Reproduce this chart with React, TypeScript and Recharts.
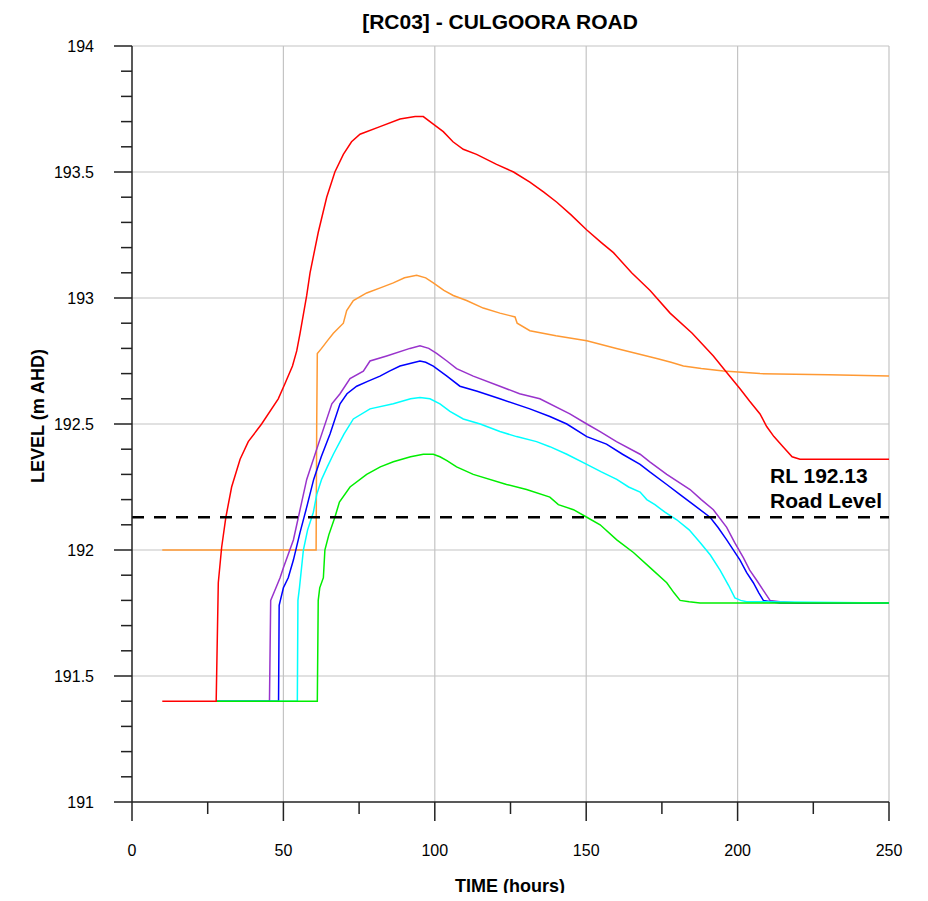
import React from 'react';
import { LineChart, Line, XAxis, YAxis, ReferenceLine, CartesianGrid } from 'recharts';

// ---- Layout constants ----
const W = 912;
const H = 885;
const MARGIN = { top: 38, right: 31, bottom: 31, left: 0 };
const X_AXIS_H = 60;
const Y_AXIS_W = 124;
const FONT = "Arial, 'Liberation Sans', Helvetica, sans-serif";

// ---- Ticks / labels ----
const X_TICKS = [0, 25, 50, 75, 100, 125, 150, 175, 200, 225, 250];
const X_MAJOR = [0, 50, 100, 150, 200, 250];
const Y_TICKS = [
  191, 191.1, 191.2, 191.3, 191.4, 191.5, 191.6, 191.7, 191.8, 191.9,
  192, 192.1, 192.2, 192.3, 192.4, 192.5, 192.6, 192.7, 192.8, 192.9,
  193, 193.1, 193.2, 193.3, 193.4, 193.5, 193.6, 193.7, 193.8, 193.9, 194,
];
const Y_MAJOR = [191, 191.5, 192, 192.5, 193, 193.5, 194];
const X_GRID = [50, 100, 150, 200, 250];
const Y_GRID = [191.5, 192, 192.5, 193, 193.5, 194];
const ROAD_LEVEL = 192.13;

const TITLE = '[RC03] - CULGOORA ROAD';
const X_TITLE = 'TIME (hours)';
const Y_TITLE = 'LEVEL (m AHD)';
const ROAD_TEXT_1 = 'RL 192.13';
const ROAD_TEXT_2 = 'Road Level';

// ---- Series data: [time (hours), level (m AHD)] ----
const RED: [number, number][] = [
  [10, 191.4], [27.8, 191.4], [28.5, 191.87], [29.6, 192.01], [31, 192.13], [32.9, 192.25],
  [35.7, 192.36], [38.4, 192.43], [42.8, 192.5], [48.3, 192.6], [50.5, 192.66], [53, 192.73],
  [54.4, 192.79], [55.5, 192.86], [57.7, 193.01], [58.8, 193.1], [61.5, 193.26], [64.3, 193.4],
  [67, 193.5], [69.8, 193.57], [72.5, 193.62], [75.3, 193.65], [81.9, 193.68], [88.5, 193.71],
  [93.5, 193.72], [96.2, 193.72], [99.5, 193.69], [102.8, 193.66], [106, 193.62], [109.4, 193.59],
  [113.8, 193.57], [120.4, 193.53], [126, 193.5], [131.4, 193.46], [136, 193.42], [140.3, 193.38],
  [145, 193.33], [150.2, 193.27], [155, 193.22], [159, 193.18], [165, 193.1], [171.1, 193.03],
  [177.7, 192.94], [185, 192.86], [192, 192.77], [196, 192.71], [200.8, 192.64], [204, 192.59],
  [207.4, 192.54], [209.6, 192.49], [212, 192.45], [215, 192.41], [218, 192.37], [220.6, 192.36],
  [250, 192.36],
];

const ORANGE: [number, number][] = [
  [10, 192.0], [60.8, 192.0], [61.0, 192.5], [61.2, 192.78], [62.6, 192.8], [64.5, 192.83],
  [66.5, 192.86], [69.8, 192.9], [70.9, 192.95], [73.1, 192.99], [77.5, 193.02], [82, 193.04],
  [86.3, 193.06], [90, 193.08], [94, 193.09], [97, 193.08], [99.5, 193.06], [103, 193.03],
  [106.1, 193.01], [110.5, 192.99], [116, 192.96], [121.5, 192.94], [124.8, 192.93],
  [126.5, 192.925], [127.2, 192.9], [131.4, 192.87], [140, 192.85], [150.2, 192.83], [160, 192.8],
  [173.3, 192.76], [178, 192.745], [182.1, 192.73], [188, 192.72], [195.3, 192.71],
  [207.4, 192.7], [230, 192.695], [250, 192.69],
];

const PURPLE: [number, number][] = [
  [27.8, 191.4], [45.4, 191.4], [45.8, 191.8], [47.2, 191.84], [48.9, 191.89], [50, 191.93],
  [53.3, 192.04], [55.5, 192.16], [57.7, 192.28], [62.1, 192.44], [66, 192.58], [68.7, 192.62],
  [72, 192.68], [76.4, 192.71], [78.6, 192.75], [84.1, 192.77], [91.8, 192.8], [95.1, 192.81],
  [98, 192.8], [100.6, 192.78], [104, 192.75], [107.2, 192.72], [112.7, 192.69], [121.5, 192.65],
  [128, 192.62], [134.7, 192.6], [144.6, 192.54], [150.2, 192.5], [154.6, 192.47], [160, 192.43],
  [167.8, 192.38], [171, 192.35], [176.6, 192.3], [184.3, 192.24], [188, 192.2], [192, 192.16],
  [196.4, 192.09], [199, 192.03], [201.9, 191.97], [204, 191.92], [206.3, 191.88], [208.5, 191.84],
  [210.7, 191.8], [214, 191.795], [220, 191.79], [250, 191.79],
];

const BLUE: [number, number][] = [
  [27.8, 191.4], [48.4, 191.4], [48.6, 191.78], [50, 191.85], [51.6, 191.89], [53.3, 191.96],
  [55.5, 192.07], [57.7, 192.17], [60, 192.28], [62.5, 192.37], [65.4, 192.46], [68.7, 192.58],
  [71, 192.62], [74.2, 192.65], [78, 192.67], [81.9, 192.69], [85, 192.71], [88.5, 192.73],
  [95.1, 192.75], [97, 192.745], [99.5, 192.73], [104, 192.69], [108.3, 192.65], [114, 192.63],
  [121.5, 192.6], [131.4, 192.56], [138, 192.53], [143.6, 192.5], [150.2, 192.45], [156.7, 192.42],
  [162, 192.38], [167.8, 192.34], [171, 192.31], [176.6, 192.26], [181, 192.22], [185.4, 192.18],
  [190.9, 192.13], [193.5, 192.09], [196.4, 192.04], [200.8, 191.96], [203, 191.91], [205.2, 191.87],
  [207, 191.83], [208.5, 191.8], [211, 191.795], [214, 191.79], [250, 191.79],
];

const CYAN: [number, number][] = [
  [27.8, 191.4], [54.6, 191.4], [54.8, 191.8], [55.3, 191.85], [56.6, 192], [58, 192.08],
  [59.9, 192.15], [61, 192.22], [62.6, 192.28], [64.5, 192.33], [66.5, 192.38], [70, 192.46],
  [73.1, 192.52], [78.6, 192.56], [86.3, 192.58], [92, 192.6], [95.1, 192.605], [98.4, 192.6],
  [101.7, 192.58], [105, 192.55], [109.4, 192.52], [115, 192.5], [121.5, 192.47], [127, 192.45],
  [133.6, 192.43], [138, 192.41], [143.6, 192.38], [150.2, 192.34], [155, 192.31], [160.1, 192.28],
  [164, 192.25], [167.8, 192.23], [170, 192.2], [172.7, 192.18], [176, 192.15], [179.9, 192.12],
  [184, 192.08], [187.6, 192.03], [191, 191.98], [194.2, 191.92], [197, 191.86], [199.1, 191.81],
  [201, 191.8], [203, 191.795], [250, 191.79],
];

const GREEN: [number, number][] = [
  [27.8, 191.4], [61.2, 191.4], [61.5, 191.8], [62, 191.85], [63.2, 191.89], [63.7, 192],
  [65, 192.06], [67, 192.13], [68.5, 192.19], [72, 192.25], [77.5, 192.3], [82, 192.33],
  [86.3, 192.35], [92, 192.37], [96.2, 192.38], [99.5, 192.38], [101.7, 192.37], [104, 192.355],
  [107.2, 192.33], [112.7, 192.3], [123.7, 192.26], [130.3, 192.24], [138, 192.21], [140.8, 192.18],
  [145.8, 192.16], [150.2, 192.13], [154.6, 192.1], [160.1, 192.04], [165.6, 191.99], [171.1, 191.93],
  [176.6, 191.87], [179, 191.83], [181, 191.8], [184, 191.795], [187.6, 191.79], [250, 191.79],
];

const SERIES = [
  { name: 'orange', color: '#ff9933', pts: ORANGE },
  { name: 'purple', color: '#9933cc', pts: PURPLE },
  { name: 'blue', color: '#0000ff', pts: BLUE },
  { name: 'cyan', color: '#00ffff', pts: CYAN },
  { name: 'green', color: '#00ee00', pts: GREEN },
  { name: 'red', color: '#ff0000', pts: RED },
];

const toRows = (pts: [number, number][]) => pts.map(([t, v]) => ({ t, v }));
const isIn = (arr: number[], v: number) => arr.some((m) => Math.abs(m - v) < 1e-6);

function YTick(props: any) {
  const { x, y, payload } = props;
  const v = payload.value as number;
  const major = isIn(Y_MAJOR, v);
  return (
    <g>
      <line x1={x - (major ? 18 : 11)} x2={x} y1={y} y2={y} stroke="#222" strokeWidth={1.5} />
      {major && (
        <text x={x - 38} y={y} dy="0.36em" textAnchor="end" fontSize={16} fill="#000" fontFamily={FONT}>
          {String(v)}
        </text>
      )}
    </g>
  );
}

function XTick(props: any) {
  const { x, y, payload } = props;
  const v = payload.value as number;
  const major = isIn(X_MAJOR, v);
  return (
    <g>
      <line x1={x} x2={x} y1={y} y2={y + (major ? 19 : 12)} stroke="#222" strokeWidth={1.5} />
      {major && (
        <text x={x} y={y + 54} textAnchor="middle" fontSize={16} fill="#000" fontFamily={FONT}>
          {String(v)}
        </text>
      )}
    </g>
  );
}

function RoadLabel(props: any) {
  const vb = props.viewBox || {};
  const x = (vb.x ?? 0) + (vb.width ?? 0) - 119;
  const y = vb.y ?? 0;
  return (
    <g>
      <text x={x} y={y - 34} fontSize={21} fontWeight="bold" fill="#000" fontFamily={FONT}>
        {ROAD_TEXT_1}
      </text>
      <text x={x} y={y - 9} fontSize={21} fontWeight="bold" fill="#000" fontFamily={FONT}>
        {ROAD_TEXT_2}
      </text>
    </g>
  );
}

export default function App() {
  return (
    <div style={{ position: 'relative', width: W, height: H, fontFamily: FONT }}>
      <LineChart width={W} height={H} margin={MARGIN}>
        <CartesianGrid
          stroke="#c4c4c4"
          strokeWidth={1.2}
          horizontalValues={Y_GRID}
          verticalValues={X_GRID}
        />
        <XAxis
          type="number"
          dataKey="t"
          domain={[0, 250]}
          ticks={X_TICKS}
          interval={0}
          height={X_AXIS_H}
          tickSize={0}
          tickMargin={0}
          tickLine={false}
          axisLine={{ stroke: '#222', strokeWidth: 1.5 }}
          tick={<XTick />}
          allowDataOverflow
        />
        <YAxis
          type="number"
          dataKey="v"
          domain={[191, 194]}
          ticks={Y_TICKS}
          interval={0}
          width={Y_AXIS_W}
          tickSize={0}
          tickMargin={0}
          tickLine={false}
          axisLine={{ stroke: '#222', strokeWidth: 1.5 }}
          tick={<YTick />}
          allowDataOverflow
        />
        {SERIES.map((s) => (
          <Line
            key={s.name}
            data={toRows(s.pts)}
            dataKey="v"
            type="linear"
            stroke={s.color}
            strokeWidth={1.5}
            dot={false}
            activeDot={false}
            isAnimationActive={false}
          />
        ))}
        <ReferenceLine
          y={ROAD_LEVEL}
          stroke="#000"
          strokeWidth={2.5}
          strokeDasharray="12 10"
          label={<RoadLabel />}
        />
      </LineChart>
      <svg
        width={W}
        height={H}
        style={{ position: 'absolute', left: 0, top: 0, pointerEvents: 'none', overflow: 'visible' }}
      >
        <text x={492} y={21} textAnchor="middle" fontSize={21} fontWeight="bold" fill="#000" fontFamily={FONT}>
          {TITLE}
        </text>
        <text x={502} y={883.5} textAnchor="middle" fontSize={18} fontWeight="bold" fill="#000" fontFamily={FONT}>
          {X_TITLE}
        </text>
        <text
          x={36}
          y={408}
          textAnchor="middle"
          fontSize={18}
          fontWeight="bold"
          fill="#000"
          fontFamily={FONT}
          transform="rotate(-90, 36, 408)"
        >
          {Y_TITLE}
        </text>
      </svg>
    </div>
  );
}
